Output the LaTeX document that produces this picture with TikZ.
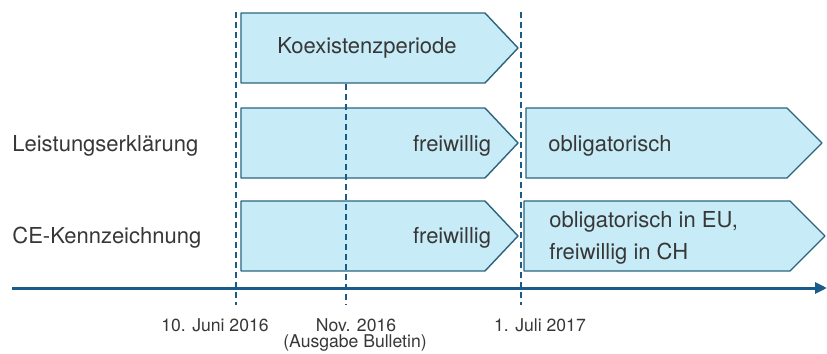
\documentclass[tikz,border=0pt]{standalone}
\usepackage{fontspec}
\setmainfont{TeX Gyre Heros}
\usetikzlibrary{arrows.meta}
\definecolor{phasefill}{RGB}{200,236,247}
\definecolor{phaseline}{RGB}{45,100,125}
\definecolor{axisblue}{RGB}{25,92,138}
\definecolor{textgray}{RGB}{55,55,55}
\begin{document}
\begin{tikzpicture}[x=0.5pt,y=-0.5pt,font=\fontsize{11}{16}\selectfont,text=textgray,line join=round,
	phase/.style={fill=phasefill,draw=phaseline,line width=0.7pt},
	dateline/.style={draw=axisblue,line width=1.2pt,dash pattern=on 3pt off 2pt},
	datelabel/.style={font=\fontsize{8.8}{10}\selectfont}]
	\useasboundingbox (0,0) rectangle (827,354);
	% Phasen
	\draw[phase] (241,13)--(485,13)--(518,48)--(485,83)--(241,83)--cycle;
	\draw[phase] (241,108)--(485,108)--(518,143)--(485,178)--(241,178)--cycle;
	\draw[phase] (526,108)--(787,108)--(822,143)--(787,178)--(526,178)--cycle;
	\draw[phase] (241,201)--(485,201)--(518,236)--(485,271)--(241,271)--cycle;
	\draw[phase] (524,201)--(790,201)--(825,236)--(790,271)--(524,271)--cycle;
	% Stichtage
	\coordinate (juni) at (236,288);
	\coordinate (nov) at (346,288);
	\coordinate (juli) at (521,288);
	\draw[dateline] (juni)++(0,-276)--++(0,293);
	\draw[dateline] (nov)++(0,-204)--++(0,221);
	\draw[dateline] (juli)++(0,-276)--++(0,293);
	% Zeitachse
	\coordinate (start) at (12,288);
	\coordinate (ende) at (827,288);
	\draw[axisblue,line width=1.5pt,-{Triangle[length=6pt,width=5.5pt]}] (start)--(ende);
	% Texte
	\path (367,48) node (koex){Koexistenzperiode}
		(12,146) node[anchor=west,inner sep=0pt] (leistung){Leistungserklärung}
		(12,238) node[anchor=west,inner sep=0pt] (ce){CE-Kennzeichnung}
		(452,146) node (frei1){freiwillig}
		(452,238) node (frei2){freiwillig}
		(548,146) node[anchor=west,inner sep=0pt] (oblig1){obligatorisch}
		(549,238) node[anchor=west,align=left,inner sep=0pt] (oblig2){obligatorisch in EU,\\freiwillig in CH};
	\path (215,325) node[datelabel] (djuni){10. Juni 2016}
		(356,325) node[datelabel] (dnov){Nov. 2016}
		(355,343) node[datelabel] (dbull){(Ausgabe Bulletin)}
		(540,325) node[datelabel] (djuli){1. Juli 2017};
\end{tikzpicture}
\end{document}
